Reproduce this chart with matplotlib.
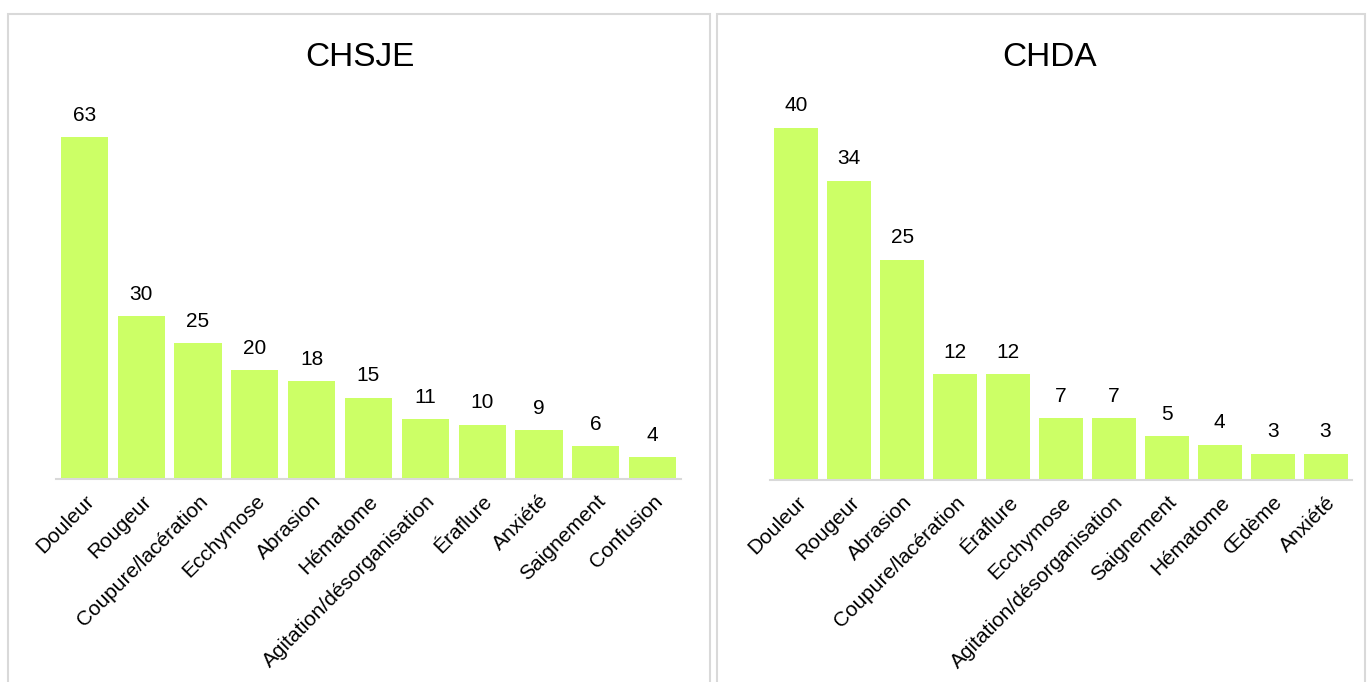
import matplotlib
matplotlib.use("Agg")
import matplotlib.pyplot as plt
from matplotlib.patches import Rectangle

plt.rcParams["font.family"] = ["Liberation Sans Narrow", "Liberation Sans", "DejaVu Sans"]

# CHSJE counts
chsje_labels = ["Douleur", "Rougeur", "Coupure/lacération", "Ecchymose", "Abrasion",
                "Hématome", "Agitation/désorganisation", "Éraflure", "Anxiété",
                "Saignement", "Confusion"]
chsje_values = [63, 30, 25, 20, 18, 15, 11, 10, 9, 6, 4]

# CHDA counts
chda_labels = ["Douleur", "Rougeur", "Abrasion", "Coupure/lacération", "Éraflure",
               "Ecchymose", "Agitation/désorganisation", "Saignement", "Hématome",
               "Œdème", "Anxiété"]
chda_values = [40, 34, 25, 12, 12, 7, 7, 5, 4, 3, 3]

bar_color = "#CCFF66"
grey = "#D9D9D9"

fig = plt.figure(figsize=(13.68, 6.82), dpi=100)

# panel frames
fig.patches.append(Rectangle((8 / 1368, -0.05), 702 / 1368, 1.05 - 14 / 682,
                             transform=fig.transFigure, fill=False,
                             edgecolor=grey, linewidth=1.5))
fig.patches.append(Rectangle((717 / 1368, -0.05), 648 / 1368, 1.05 - 14 / 682,
                             transform=fig.transFigure, fill=False,
                             edgecolor=grey, linewidth=1.5))


def draw_panel(rect, title, labels, values, ymax, title_x):
    ax = fig.add_axes(rect)
    x = list(range(len(values)))
    bars = ax.bar(x, values, width=0.83, color=bar_color)
    ax.set_xlim(-0.5, len(values) - 0.5)
    ax.set_ylim(0, ymax)
    for b, v in zip(bars, values):
        ax.annotate(str(v), (b.get_x() + b.get_width() / 2, v),
                    xytext=(0, 9), textcoords="offset points",
                    ha="center", va="bottom", fontsize=15)
    ax.set_xticks(x)
    ax.set_xticklabels(labels, rotation=45, ha="right", rotation_mode="anchor",
                       fontsize=15)
    ax.tick_params(axis="x", length=0, pad=9)
    ax.set_yticks([])
    for s in ["top", "right", "left"]:
        ax.spines[s].set_visible(False)
    ax.spines["bottom"].set_color(grey)
    ax.spines["bottom"].set_linewidth(1.5)
    fig.text(title_x, 1 - 58 / 682, title, ha="center", va="center", fontsize=24)


draw_panel([56 / 1368, 0.2977, 625 / 1368, 0.557], "CHSJE",
           chsje_labels, chsje_values, 70, 360 / 1368)
draw_panel([770 / 1368, 0.296, 582 / 1368, 0.581], "CHDA",
           chda_labels, chda_values, 45, 1050 / 1368)

fig.savefig("out.png", dpi=100, facecolor="white")
